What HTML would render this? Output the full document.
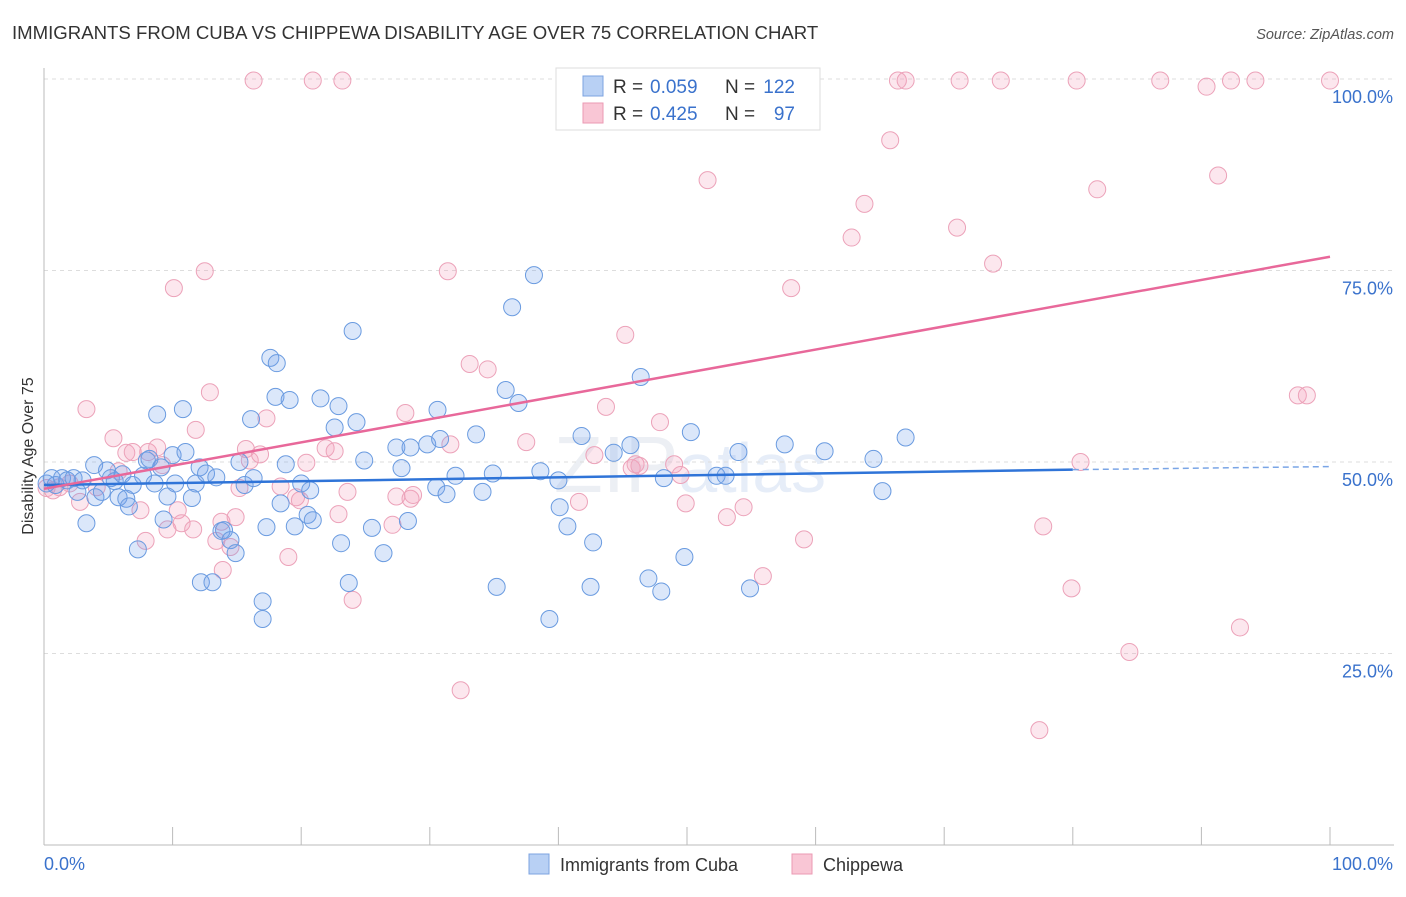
<!DOCTYPE html>
<html><head><meta charset="utf-8"><style>
body{margin:0;background:#fff;font-family:"Liberation Sans",sans-serif}
svg text{font-family:"Liberation Sans",sans-serif}
</style></head><body>
<svg id="chart" width="1406" height="892" xmlns="http://www.w3.org/2000/svg">
<text x="12" y="39" font-size="18.6" fill="#333">IMMIGRANTS FROM CUBA VS CHIPPEWA DISABILITY AGE OVER 75 CORRELATION CHART</text>
<text x="1394" y="39" font-size="14.5" fill="#555" font-style="italic" text-anchor="end">Source: ZipAtlas.com</text>
<text x="690" y="492" font-size="80" fill="#eceff4" text-anchor="middle" font-family="Liberation Serif">ZIP<tspan font-family="Liberation Sans" font-size="70" fill="#e6edf8">atlas</tspan></text>
<g id="grid"></g>
<g id="axes"></g>
<g id="pts"></g>
<g id="trend"></g>
<text transform="translate(33,456) rotate(-90)" font-size="16" fill="#333" text-anchor="middle">Disability Age Over 75</text>
<g>
<rect x="556" y="68" width="264" height="62" fill="#fff" stroke="#ddd"/>
<rect x="583" y="76" width="20" height="20" fill="#b8d0f4" stroke="#7ca3e0"/>
<rect x="583" y="103" width="20" height="20" fill="#f9c6d5" stroke="#eb9ab3"/>
<text x="613" y="93" font-size="19" fill="#333">R =</text>
<text x="650" y="93" font-size="19" fill="#3a72cc">0.059</text>
<text x="725" y="93" font-size="19" fill="#333">N =</text>
<text x="795" y="93" font-size="19" fill="#3a72cc" text-anchor="end">122</text>
<text x="613" y="120" font-size="19" fill="#333">R =</text>
<text x="650" y="120" font-size="19" fill="#3a72cc">0.425</text>
<text x="725" y="120" font-size="19" fill="#333">N =</text>
<text x="795" y="120" font-size="19" fill="#3a72cc" text-anchor="end">97</text>
</g>
<g>
<rect x="529" y="854" width="20" height="20" fill="#b8d0f4" stroke="#7ca3e0"/>
<text x="560" y="871" font-size="18" fill="#333">Immigrants from Cuba</text>
<rect x="792" y="854" width="20" height="20" fill="#f9c6d5" stroke="#eb9ab3"/>
<text x="823" y="871" font-size="18" fill="#333">Chippewa</text>
</g>
</svg>
<script>
const cubaX=[0.2,0.6,0.9,1.4,1.8,2.3,2.6,3.0,3.3,3.9,4.0,4.5,4.9,5.2,5.5,5.8,6.1,6.4,6.6,6.9,7.3,7.7,8.0,8.2,8.6,8.8,9.1,9.3,9.6,10.0,10.2,10.8,11.0,11.5,11.8,12.1,12.2,12.6,13.1,13.4,13.8,14.0,14.5,14.9,15.2,15.6,16.1,16.3,17.0,17.0,17.3,17.6,18.1,18.0,18.4,18.8,19.1,19.5,20.0,20.5,20.7,20.9,21.5,22.9,22.6,23.1,23.7,24.0,24.3,24.9,25.5,26.4,27.4,27.8,28.3,28.5,29.8,30.6,30.8,30.5,31.3,32.0,33.6,34.1,34.9,35.2,35.9,36.4,36.9,38.1,38.6,39.3,40.0,40.1,40.7,41.8,42.7,42.5,44.3,45.6,46.4,47.0,48.0,48.2,49.8,50.3,52.3,53.0,54.0,54.9,57.6,60.7,64.5,65.2,67.0];
const cubaY=[47.2,47.9,47.0,47.9,47.6,47.9,46.1,47.6,42.0,49.6,45.4,46.1,48.9,47.9,47.5,45.4,48.4,45.2,44.2,47.0,38.6,48.2,50.2,50.4,47.2,56.2,49.3,42.5,45.5,50.9,47.2,56.9,51.3,45.3,47.2,49.3,34.3,48.5,34.3,48.0,41.0,41.1,39.8,38.1,50.0,47.0,55.6,47.9,31.8,29.5,41.5,63.6,62.9,58.5,44.6,49.7,58.1,41.6,47.2,43.1,46.3,42.4,58.3,57.3,54.5,39.4,34.2,67.1,55.2,50.2,41.4,38.1,51.9,49.2,42.3,51.9,52.3,56.8,53.0,46.7,45.8,48.2,53.6,46.1,48.5,33.7,59.4,70.2,57.7,74.4,48.8,29.5,47.6,44.1,41.6,53.4,39.5,33.7,51.2,52.2,61.1,34.8,33.1,47.9,37.6,53.9,48.2,48.2,51.3,33.5,52.3,51.4,50.4,46.2,53.2];
const chipX=[0.2,0.7,1.2,2.0,2.8,3.3,4.1,5.4,5.8,6.4,6.9,7.5,7.9,8.1,8.8,9.2,9.6,10.1,10.4,10.7,11.6,11.8,12.5,12.9,13.4,13.8,13.9,14.5,14.9,15.2,15.7,16.0,16.3,16.8,17.3,18.4,19.0,19.6,19.9,20.4,20.9,21.9,22.6,22.9,23.2,23.6,24.0,27.1,27.4,28.1,28.5,28.7,31.4,31.6,32.4,33.1,34.5,37.5,41.6,42.8,43.7,45.2,45.7,46.0,46.3,47.9,49.0,49.5,49.9,51.6,53.1,54.4,55.9,58.1,59.1,62.8,63.8,65.8,66.4,67.0,71.0,71.2,73.8,74.4,77.7,77.4,79.9,80.3,80.6,81.9,84.4,86.8,90.4,91.3,92.3,93.0,94.2,97.5,98.2,100];
const chipY=[46.6,46.3,46.7,47.2,44.8,56.9,46.7,53.1,48.8,51.2,51.3,43.7,39.7,51.3,51.9,49.6,41.2,72.7,43.7,42.0,41.2,54.2,74.9,59.1,39.7,42.2,35.9,38.9,42.8,46.6,51.7,50.2,99.8,51.0,55.7,46.8,37.6,45.4,45.0,49.9,99.8,51.8,51.4,43.2,99.8,46.1,32.0,41.8,45.5,56.4,45.2,45.7,74.9,52.3,20.2,62.8,62.1,52.6,44.8,50.9,57.2,66.6,49.2,49.7,49.5,55.2,49.7,48.3,44.6,86.8,42.8,44.1,35.1,72.7,39.9,79.3,83.7,92.0,99.8,99.8,80.6,99.8,75.9,99.8,41.6,15.0,33.5,99.8,50.0,85.6,25.2,99.8,99.0,87.4,99.8,28.4,99.8,58.7,58.7,99.8];
const cubaTrend=[47.0,49.0,49.4]; const cubaTrendX=[0,80,100];
const chipTrend=[46.5,76.8]; const chipTrendX=[0,100];
const yTicks=[25,50,75,100]; const yTickLabels=["25.0%","50.0%","75.0%","100.0%"];
const xTicks=[0,10,20,30,40,50,60,70,80,90,100];

const NS="http://www.w3.org/2000/svg";
const X=v=>44+v*12.86, Y=v=>845-v*7.66;
function mk(t,a,p){const e=document.createElementNS(NS,t);for(const k in a)e.setAttribute(k,a[k]);p.appendChild(e);return e;}
const grid=document.getElementById('grid'),axes=document.getElementById('axes'),pts=document.getElementById('pts'),tr=document.getElementById('trend');
yTicks.forEach((v,i)=>{
 const l=mk('line',{x1:44,x2:1394,y1:Y(v),y2:Y(v),stroke:'#ddd','stroke-dasharray':'4,4'},grid);
 
 
 const t=mk('text',{x:1393,y:Y(v)+24,'font-size':18,fill:'#3a72cc','text-anchor':'end'},axes);
 t.textContent=yTickLabels[i];
 
 
});
const ya=mk('line',{x1:44,x2:44,y1:68,y2:845,stroke:'#bbb'},axes);


const xa=mk('line',{x1:44,x2:1394,y1:845,y2:845,stroke:'#bbb'},axes);


xTicks.forEach(v=>{const t=mk('line',{x1:X(v),x2:X(v),y1:827,y2:845,stroke:'#bbb'},axes);
 
 });
const x0=mk('text',{x:44,y:870,'font-size':18,fill:'#3a72cc'},axes);x0.textContent='0.0%';


const x1=mk('text',{x:1393,y:870,'font-size':18,fill:'#3a72cc','text-anchor':'end'},axes);x1.textContent='100.0%';


chipX.forEach((v,i)=>{const c=mk('circle',{cx:X(v),cy:Y(chipY[i]),r:8.5,fill:'rgba(244,160,188,0.25)',stroke:'#eca2b9','stroke-width':1},pts);
 
 });
cubaX.forEach((v,i)=>{const c=mk('circle',{cx:X(v),cy:Y(cubaY[i]),r:8.5,fill:'rgba(110,160,235,0.25)',stroke:'#6a9be0','stroke-width':1},pts);
 
 });
const bs=mk('line',{x1:X(cubaTrendX[0]),y1:Y(cubaTrend[0]),x2:X(cubaTrendX[1]),y2:Y(cubaTrend[1]),stroke:'#2f74d8','stroke-width':2.5},tr);


const bd=mk('line',{x1:X(cubaTrendX[1]),y1:Y(cubaTrend[1]),x2:X(cubaTrendX[2]),y2:Y(cubaTrend[2]),stroke:'#7aa5e6','stroke-width':1.5,'stroke-dasharray':'6,4'},tr);


const pl=mk('line',{x1:X(chipTrendX[0]),y1:Y(chipTrend[0]),x2:X(chipTrendX[1]),y2:Y(chipTrend[1]),stroke:'#e8689a','stroke-width':2.5},tr);


</script>
</body></html>
